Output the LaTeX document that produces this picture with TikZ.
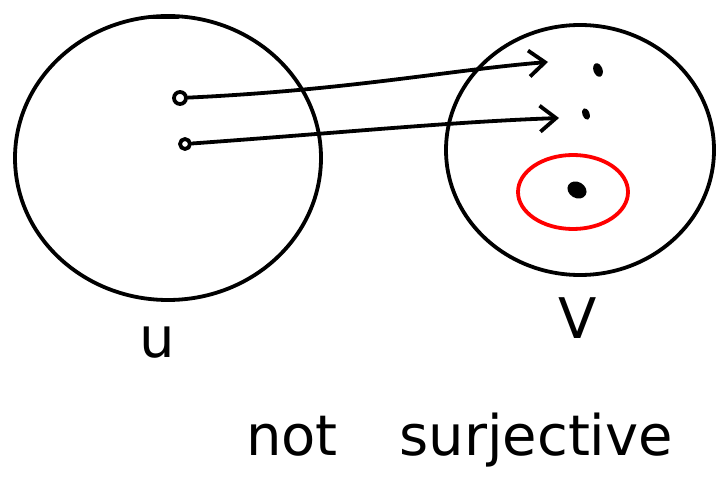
\documentclass[tikz,border=0pt]{standalone}
\usepackage{fontspec}
\setmainfont{DejaVu Sans}
\usetikzlibrary{arrows.meta,shapes.geometric}
\begin{document}
\begin{tikzpicture}[x=1pt,y=-1pt,
  ink/.style={line width=3.8pt,line cap=round,line join=round},
  mapto/.style={ink,-{Straight Barb[length=16pt,width=26pt,line width=3.8pt]}},
  lbl/.style={font=\fontsize{56}{56}\selectfont,inner sep=0pt},
  elem/.style={ink,circle,draw,minimum size=12pt,inner sep=0pt},
  vdot/.style={ellipse,fill=black,minimum width=9pt,minimum height=14pt,inner sep=0pt,rotate=20}]
\useasboundingbox (0,0) rectangle (717,478);
% sets
\draw[ink] (168,158) ellipse [x radius=153,y radius=142];
\draw[ink] (580,150) ellipse [x radius=134,y radius=125];
\draw[ink] (152,17) -- (178,17);
% elements of U
\node[elem] (u1) at (180,98) {};
\node[elem,minimum size=10pt] (u2) at (185,144) {};
% elements of V
\coordinate (v1) at (548,62);
\coordinate (v2) at (559,118);
\node[vdot] (w1) at (598,70) {};
\node[vdot,minimum width=7pt,minimum height=12pt] (w2) at (586,114) {};
\draw[mapto] (u1) .. controls (350,90) and (450,70) .. (v1);
\draw[mapto] (u2) .. controls (350,132) and (450,122) .. (v2);
% unmapped element
\draw[red,line width=3.8pt] (573,192) ellipse [x radius=55,y radius=37];
\node[ellipse,fill=black,minimum width=20pt,minimum height=16pt,inner sep=0pt,rotate=-30] (w3) at (577,190) {};
% labels
\node[lbl] (lu) at (157,342) {u};
\node[lbl] (lv) at (578,318) {V};
\node[lbl,anchor=base west] (lt) at (246,455) {not\hspace{1.1em}surjective};
\end{tikzpicture}
\end{document}
